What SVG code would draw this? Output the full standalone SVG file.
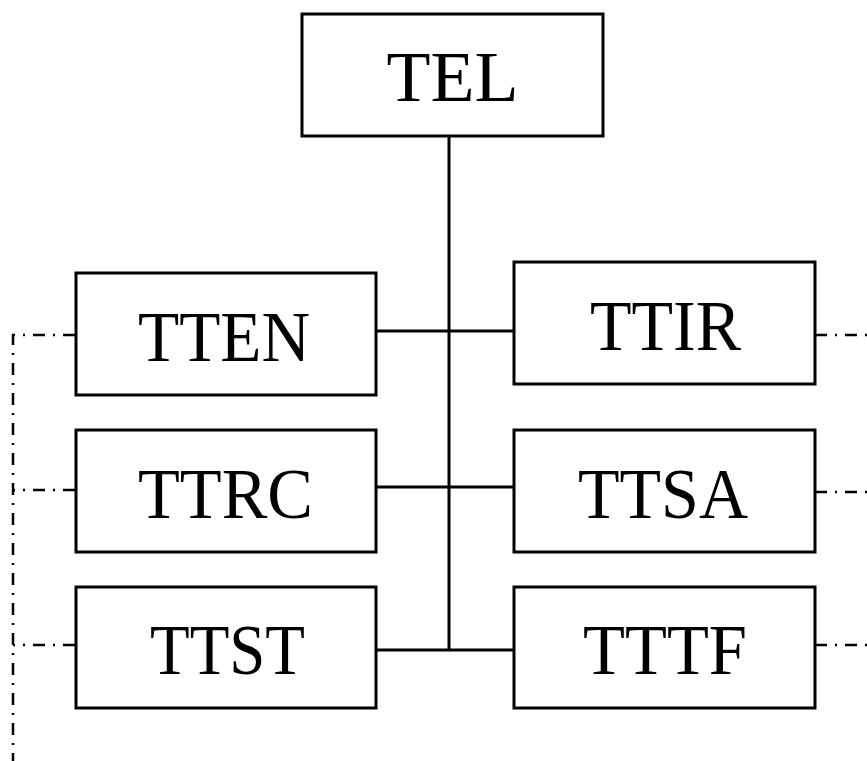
<svg xmlns="http://www.w3.org/2000/svg" width="867" height="761" viewBox="0 0 867 761">
<style>
.box{fill:#fff;stroke:#000;stroke-width:3}
.lbl{font-family:"Liberation Serif","Times New Roman",serif;font-size:72px;text-anchor:middle;fill:#000}
.ln{stroke:#000;stroke-width:3;fill:none}
.dd{stroke:#000;stroke-width:2.5;fill:none;stroke-dasharray:12 8 2 8}
</style>
<rect width="867" height="761" fill="#fff"/>
<g id="connectors">
<path class="ln" d="M449 136V650M376 331H514M376 487H514M376 650H514"/>
<path class="dd" d="M75 335H13V761"/>
<path class="dd" d="M75 490H13"/>
<path class="dd" d="M75 645H13"/>
<path class="dd" d="M815 335H867"/>
<path class="dd" d="M815 492H867"/>
<path class="dd" d="M815 645H867"/>
</g>
<g id="TEL"><rect class="box" x="302" y="14" width="301" height="122"/><text class="lbl" x="452.5" y="101">TEL</text></g>
<g id="TTEN"><rect class="box" x="76" y="273" width="300" height="122"/><text class="lbl" x="224" y="361" textLength="172" lengthAdjust="spacingAndGlyphs">TTEN</text></g>
<g id="TTIR"><rect class="box" x="514" y="262" width="301" height="122"/><text class="lbl" x="665.5" y="350" textLength="151" lengthAdjust="spacingAndGlyphs">TTIR</text></g>
<g id="TTRC"><rect class="box" x="76" y="430" width="300" height="122"/><text class="lbl" x="225.5" y="518" textLength="175" lengthAdjust="spacingAndGlyphs">TTRC</text></g>
<g id="TTSA"><rect class="box" x="514" y="430" width="301" height="122"/><text class="lbl" x="663" y="518" textLength="170" lengthAdjust="spacingAndGlyphs">TTSA</text></g>
<g id="TTST"><rect class="box" x="76" y="587" width="300" height="121"/><text class="lbl" x="227.5" y="674" textLength="155" lengthAdjust="spacingAndGlyphs">TTST</text></g>
<g id="TTTF"><rect class="box" x="514" y="587" width="301" height="121"/><text class="lbl" x="665" y="674" textLength="164" lengthAdjust="spacingAndGlyphs">TTTF</text></g>
</svg>
